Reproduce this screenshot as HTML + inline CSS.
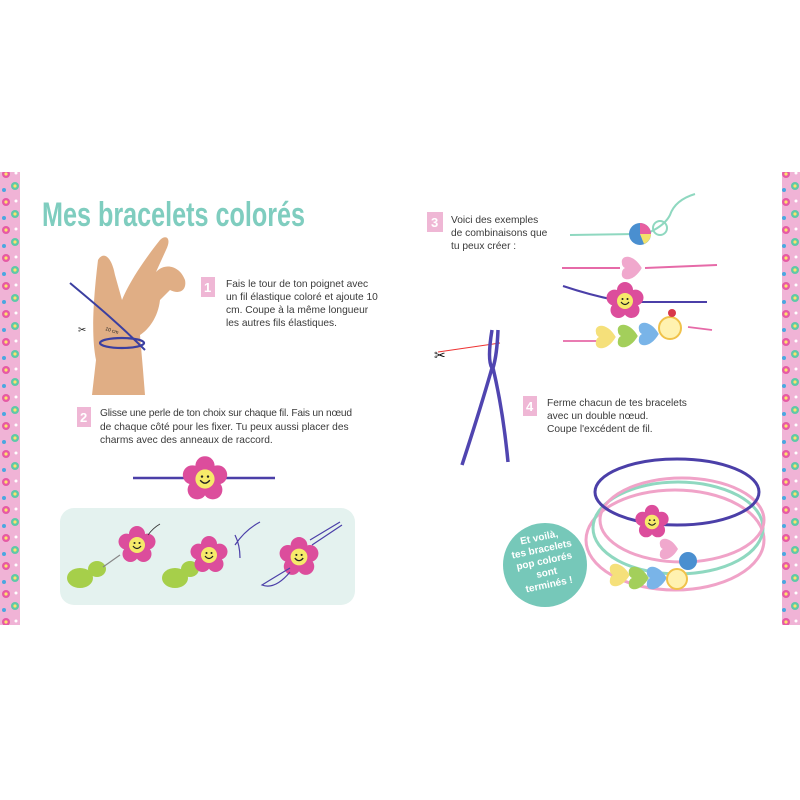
<!DOCTYPE html>
<html><head><meta charset="utf-8"><style>
html,body{margin:0;padding:0;background:#fff;width:800px;height:800px;overflow:hidden}
svg{display:block}
.t{font-family:"Liberation Sans",sans-serif;font-size:10.2px;fill:#3a3a3a}
.n{font-family:"Liberation Sans",sans-serif;font-size:13px;fill:#fff;font-weight:bold}
</style></head><body>
<svg width="800" height="800" viewBox="0 0 800 800" xmlns="http://www.w3.org/2000/svg">
<defs>
<pattern id="pp" width="20" height="28" patternUnits="userSpaceOnUse">
<rect width="20" height="28" fill="#f0b3d6"/>
<circle cx="6" cy="6" r="4" fill="#e65aa5"/><circle cx="6" cy="6" r="1.6" fill="#ffe36b"/>
<circle cx="15" cy="18" r="4" fill="#5fc9a8"/><circle cx="15" cy="18" r="1.6" fill="#ffe36b"/>
<circle cx="4" cy="22" r="2" fill="#4aa7e0"/><circle cx="16" cy="5" r="1.5" fill="#fff"/>
</pattern>
<g id="flower">
<circle cx="0" cy="-11" r="8" fill="#dc4d9c"/><circle cx="10.5" cy="-3.4" r="8" fill="#dc4d9c"/>
<circle cx="6.5" cy="9" r="8" fill="#dc4d9c"/><circle cx="-6.5" cy="9" r="8" fill="#dc4d9c"/>
<circle cx="-10.5" cy="-3.4" r="8" fill="#dc4d9c"/>
<circle cx="0" cy="0" r="8" fill="#f6ea6a"/>
<circle cx="-2.5" cy="-2" r="1" fill="#222"/><circle cx="2.5" cy="-2" r="1" fill="#222"/>
<path d="M-4 1 Q0 6 4 1" stroke="#222" stroke-width="1.2" fill="none"/>
</g>
<path id="heart" d="M0 8 C-14 0 -12 -12 -4 -10 C-2 -10 0 -8 0 -7 C0 -8 2 -10 4 -10 C12 -12 14 0 0 8Z"/>
</defs>
<rect x="0" y="172" width="20" height="453" fill="url(#pp)"/>
<rect x="782" y="172" width="18" height="453" fill="url(#pp)"/>

<text x="42" y="226" font-family="Liberation Sans, sans-serif" font-weight="bold" font-size="34" fill="#7fcdbf" textLength="263" lengthAdjust="spacingAndGlyphs">Mes bracelets colorés</text>

<path d="M98 260 C104 250 112 258 115 275 L122 300 C130 280 148 255 160 240 C166 234 172 238 166 250 L156 272 C165 262 180 266 185 280 C187 290 180 295 170 290 L160 300 C158 318 148 330 140 335 L143 370 L145 395 L92 395 L96 360 C92 340 92 310 98 260Z" fill="#e0ae85"/>
<path d="M70 283 C90 300 115 320 145 350" stroke="#3b3fa0" stroke-width="2" fill="none"/>
<ellipse cx="122" cy="343" rx="22" ry="5" fill="none" stroke="#3b3fa0" stroke-width="2.2"/>
<text x="105" y="330" font-family="Liberation Sans,sans-serif" font-size="5" fill="#222" transform="rotate(18 105 330)">10 cm</text>
<text x="78" y="333" font-size="10" fill="#222">✂</text>

<rect x="201" y="277" width="14" height="20" fill="#efb7d5"/><text class="n" x="204" y="292">1</text>
<text class="t" x="226" y="287">Fais le tour de ton poignet avec</text>
<text class="t" x="226" y="300">un fil élastique coloré et ajoute 10</text>
<text class="t" x="226" y="313">cm. Coupe à la même longueur</text>
<text class="t" x="226" y="326">les autres fils élastiques.</text>

<rect x="77" y="407" width="14" height="20" fill="#efb7d5"/><text class="n" x="80" y="422">2</text>
<text class="t" x="100" y="416" textLength="252">Glisse une perle de ton choix sur chaque fil. Fais un nœud</text>
<text class="t" x="100" y="430">de chaque côté pour les fixer. Tu peux aussi placer des</text>
<text class="t" x="100" y="443">charms avec des anneaux de raccord.</text>

<path d="M133 478 L275 478" stroke="#4b3fa8" stroke-width="2.5"/>
<use href="#flower" transform="translate(205 479) scale(1.2)"/>

<rect x="60" y="508" width="295" height="97" rx="14" fill="#e4f2ef"/>
<ellipse cx="80" cy="578" rx="13" ry="10" fill="#a6cf4a"/><ellipse cx="97" cy="569" rx="9" ry="8" fill="#a6cf4a"/>
<path d="M103 567 L120 555" stroke="#888" stroke-width="1.2"/>
<use href="#flower" transform="translate(137 545)"/>
<path d="M148 535 Q153 528 160 524" stroke="#333" stroke-width="0.8" fill="none"/>
<ellipse cx="175" cy="578" rx="13" ry="10" fill="#a6cf4a"/><ellipse cx="190" cy="569" rx="9" ry="8" fill="#a6cf4a"/>
<use href="#flower" transform="translate(209 555)"/>
<path d="M235 545 Q245 530 260 522 M235 535 Q240 545 240 558" stroke="#4b3fa8" stroke-width="1.2" fill="none"/>
<use href="#flower" transform="translate(299 557) scale(1.05)"/>
<path d="M312 545 L342 525 M310 540 L340 522 M290 568 Q270 580 262 585 Q275 590 290 572" stroke="#4b3fa8" stroke-width="1.2" fill="none"/>

<rect x="427" y="212" width="16" height="20" fill="#efb7d5"/><text class="n" x="431" y="227">3</text>
<text class="t" x="451" y="223">Voici des exemples</text>
<text class="t" x="451" y="236">de combinaisons que</text>
<text class="t" x="451" y="249">tu peux créer :</text>

<path d="M570 235 L640 234 M650 232 Q665 225 670 215 Q675 200 695 194" stroke="#8fd8c0" stroke-width="2" fill="none"/>
<circle cx="660" cy="228" r="7" fill="none" stroke="#8fd8c0" stroke-width="2"/>
<circle cx="640" cy="234" r="11" fill="#4a8fd0"/><path d="M640 223 A11 11 0 0 1 651 234 L640 234Z" fill="#e85fa0"/><path d="M640 234 L651 234 A11 11 0 0 1 644 244Z" fill="#f3e26a"/>
<path d="M562 268 L620 268 M645 268 L717 265" stroke="#e66aa8" stroke-width="2" fill="none"/>
<use href="#heart" transform="translate(633 268) rotate(-90) scale(1.1)" fill="#f0a8cd"/>
<path d="M563 286 Q590 295 615 300 M638 302 L707 302" stroke="#4b3fa8" stroke-width="2" fill="none"/>
<use href="#flower" transform="translate(625 301)"/>
<path d="M563 341 L598 341 M688 327 L712 330" stroke="#e66aa8" stroke-width="1.8" fill="none"/>
<use href="#heart" transform="translate(607 337) rotate(-90) scale(1.1)" fill="#f5e07a"/>
<use href="#heart" transform="translate(629 336) rotate(-90) scale(1.1)" fill="#a3cf5b"/>
<use href="#heart" transform="translate(650 334) rotate(-90) scale(1.1)" fill="#79b4e8"/>
<circle cx="670" cy="328" r="11" fill="#fff2b0" stroke="#f0c24a" stroke-width="2"/>
<circle cx="672" cy="313" r="4" fill="#d8374a"/>

<path d="M438 352 L500 343" stroke="#e33" stroke-width="1"/>
<text x="434" y="360" font-size="14" fill="#111">✂</text>
<path d="M492 330 Q487 360 492 368 Q480 410 462 465 M498 330 Q497 355 493 368 Q503 410 508 462" stroke="#5045b0" stroke-width="3.5" fill="none"/>

<rect x="523" y="396" width="14" height="20" fill="#efb7d5"/><text class="n" x="526" y="411">4</text>
<text class="t" x="547" y="406">Ferme chacun de tes bracelets</text>
<text class="t" x="547" y="419">avec un double nœud.</text>
<text class="t" x="547" y="432">Coupe l'excédent de fil.</text>

<ellipse cx="675" cy="540" rx="89" ry="50" fill="none" stroke="#f0a3c8" stroke-width="3"/>
<ellipse cx="678" cy="528" rx="85" ry="46" fill="none" stroke="#8fd8c0" stroke-width="3"/>
<ellipse cx="682" cy="520" rx="82" ry="42" fill="none" stroke="#f0a3c8" stroke-width="3"/>
<ellipse cx="677" cy="492" rx="82" ry="33" fill="none" stroke="#4b3fa8" stroke-width="3"/>
<use href="#flower" transform="translate(652 522) scale(0.9)"/>
<use href="#heart" transform="translate(670 549) rotate(-90)" fill="#f0a8cd"/>
<circle cx="688" cy="561" r="9" fill="#4a8fd0"/>
<use href="#heart" transform="translate(621 575) rotate(-90) scale(1.1)" fill="#f5e07a"/>
<use href="#heart" transform="translate(640 578) rotate(-90) scale(1.1)" fill="#a3cf5b"/>
<use href="#heart" transform="translate(658 578) rotate(-90) scale(1.1)" fill="#79b4e8"/>
<circle cx="677" cy="579" r="10" fill="#fff2b0" stroke="#f0c24a" stroke-width="2"/>

<circle cx="545" cy="565" r="42" fill="#76c8b9"/>
<g font-family="Liberation Sans,sans-serif" font-size="10" font-weight="bold" fill="#fff" text-anchor="middle" transform="rotate(-12 545 565)">
<text x="545" y="540">Et voilà,</text><text x="545" y="552">tes bracelets</text><text x="545" y="564">pop colorés</text><text x="545" y="576">sont</text><text x="545" y="588">terminés !</text>
</g>
</svg>
</body></html>
